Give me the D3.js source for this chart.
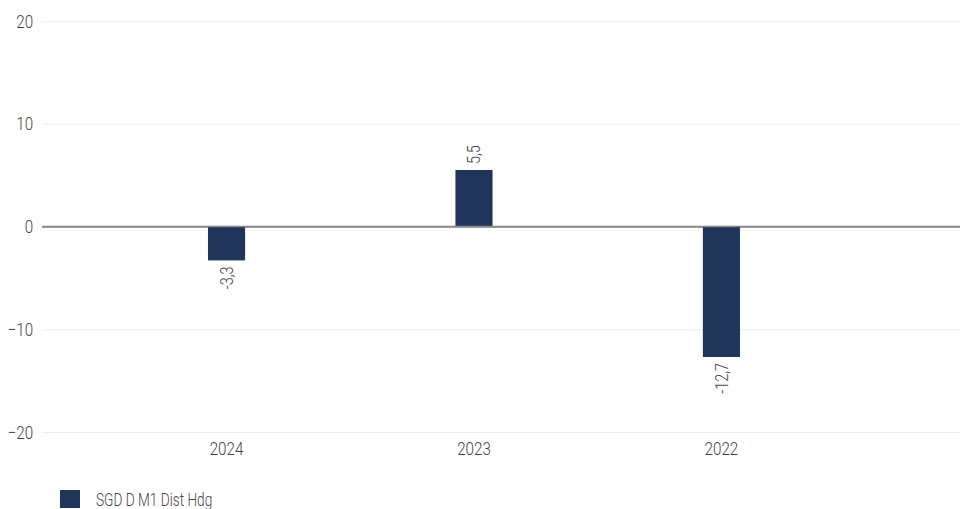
<!DOCTYPE html>
<html>
<head>
<meta charset="utf-8">
<script src="https://cdn.jsdelivr.net/npm/d3@7"></script>
<style>
  body { margin: 0; background: #fff; }
  svg text { font-family: "Roboto", "Liberation Sans", sans-serif; font-weight: 300; }
</style>
</head>
<body>
<div id="chart"></div>
<script>
// Chart data
var years = ["2024", "2023", "2022"];
var returns = [-3.3, 5.5, -12.7];
var yTicks = [-20, -10, 0, 10, 20];
var seriesName = "SGD D M1 Dist Hdg";

// SVG area
var svgWidth = 960;
var svgHeight = 509;

var margin = { top: 21, right: 0, bottom: 77, left: 42 };
var chartWidth = svgWidth - margin.left - margin.right;
var chartHeight = svgHeight - margin.top - margin.bottom;

// the reference uses a narrow typeface, squeeze the text horizontally
var squeeze = 0.8;
var textColor = "#444";
var barColor = "#21345a";

var svg = d3.select("#chart")
  .append("svg")
  .attr("width", svgWidth)
  .attr("height", svgHeight);

var chartGroup = svg.append("g")
  .attr("transform", `translate(${margin.left}, ${margin.top})`);

// scales
var xScale = d3.scaleBand()
  .domain(years)
  .range([0, chartWidth])
  .paddingInner(0.85)
  .paddingOuter(0.78)
  .align(0.43);

var yScale = d3.scaleLinear()
  .domain([-20, 20])
  .range([chartHeight, 0]);

// gridlines + y tick labels
var leftAxis = d3.axisLeft(yScale)
  .tickValues(yTicks)
  .tickSize(-chartWidth)
  .tickPadding(11);

var yAxis = chartGroup.append("g").call(leftAxis);
yAxis.select(".domain").remove();
yAxis.selectAll(".tick line")
  .attr("stroke", d => d === 0 ? "#888" : "#eeeeee")
  .attr("stroke-width", d => d === 0 ? 1.6 : 1);
yAxis.selectAll(".tick text")
  .attr("fill", textColor)
  .attr("transform", `scale(${squeeze},1)`)
  .style("font-size", "19px");

// bars
chartGroup.selectAll("rect.bar")
  .data(years)
  .enter()
  .append("rect")
  .attr("class", "bar")
  .attr("x", d => xScale(d))
  .attr("width", xScale.bandwidth())
  .attr("y", (d, i) => yScale(Math.max(0, returns[i])))
  .attr("height", (d, i) => Math.abs(yScale(returns[i]) - yScale(0)))
  .attr("fill", barColor);

// redraw zero line on top of bars
chartGroup.append("line")
  .attr("x1", 0)
  .attr("x2", chartWidth)
  .attr("y1", yScale(0))
  .attr("y2", yScale(0))
  .attr("stroke", "#888")
  .attr("stroke-width", 1.6);

// value labels, rotated
chartGroup.selectAll("text.val")
  .data(years)
  .enter()
  .append("text")
  .attr("class", "val")
  .attr("transform", (d, i) => {
    var x = xScale(d) + xScale.bandwidth() / 2;
    var y = returns[i] >= 0 ? yScale(returns[i]) - 6 : yScale(returns[i]) + 6;
    return `translate(${x}, ${y}) rotate(-90) scale(${squeeze},1)`;
  })
  .attr("dy", "0.35em")
  .attr("text-anchor", (d, i) => returns[i] >= 0 ? "start" : "end")
  .attr("fill", textColor)
  .style("font-size", "18px")
  .text((d, i) => String(returns[i]).replace(".", ","));

// x axis labels
var bottomAxis = d3.axisBottom(xScale).tickSize(0).tickPadding(10);
var xAxis = chartGroup.append("g")
  .attr("transform", `translate(0, ${chartHeight})`)
  .call(bottomAxis);
xAxis.select(".domain").remove();
xAxis.selectAll(".tick text")
  .attr("fill", textColor)
  .attr("transform", `scale(${squeeze},1)`)
  .style("font-size", "19px");

// legend
var legend = svg.append("g")
  .attr("transform", "translate(60, 490)");
legend.append("rect")
  .attr("width", 20)
  .attr("height", 18)
  .attr("fill", barColor);
legend.append("text")
  .attr("transform", `translate(36, 16) scale(${squeeze * 0.95},1)`)
  .attr("fill", textColor)
  .style("font-size", "18px")
  .text(seriesName);
</script>
</body>
</html>
